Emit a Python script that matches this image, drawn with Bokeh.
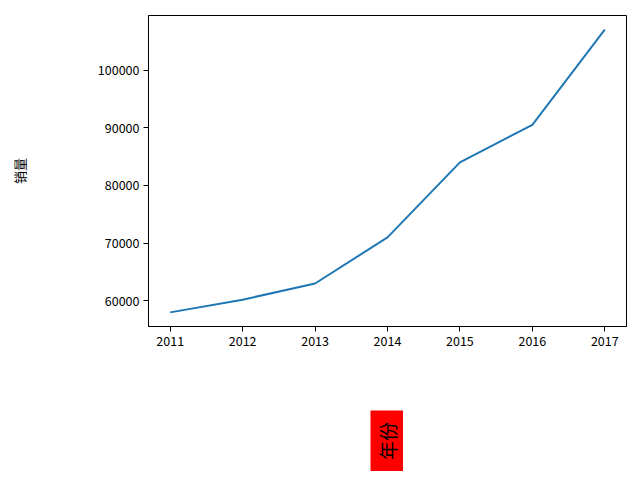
import math
from bokeh.plotting import figure
from bokeh.layouts import column, row
from bokeh.models import Range1d, FixedTicker, NumeralTickFormatter, Label, Spacer
from bokeh.embed import file_html
from bokeh.resources import INLINE

years = [2011, 2012, 2013, 2014, 2015, 2016, 2017]
sales = [58000, 60200, 63000, 71000, 84000, 90500, 107000]
y_ticks = [60000, 70000, 80000, 90000, 100000]
x_label = "年份"
y_label = "销量"

FONT = "Noto Sans CJK SC"

xspan = max(years) - min(years)
yspan = max(sales) - min(sales)

p = figure(width=632, height=410, output_backend="svg", toolbar_location=None,
           x_range=Range1d(min(years) - 0.05 * xspan, max(years) + 0.05 * xspan),
           y_range=Range1d(min(sales) - 0.05 * yspan, max(sales) + 0.05 * yspan),
           min_border_left=148, min_border_right=6, min_border_top=15, min_border_bottom=84)
p.frame_width = 478
p.frame_height = 311

p.line(years, sales, line_color="#1f77b4", line_width=2)

p.xgrid.visible = False
p.ygrid.visible = False
p.outline_line_color = "black"
p.outline_line_width = 1
p.outline_line_alpha = 1

p.xaxis.ticker = FixedTicker(ticks=years)
p.yaxis.ticker = FixedTicker(ticks=y_ticks)
p.xaxis.formatter = NumeralTickFormatter(format="0")
p.yaxis.formatter = NumeralTickFormatter(format="0")
for ax in (p.xaxis, p.yaxis):
    ax.major_tick_out = 5
    ax.major_tick_in = 0
    ax.minor_tick_out = 0
    ax.minor_tick_in = 0
    ax.axis_line_color = "black"
    ax.major_tick_line_color = "black"
    ax.major_label_text_font = FONT
    ax.major_label_text_font_size = "12.5px"
    ax.major_label_text_color = "black"
    ax.major_label_standoff = 4

p.yaxis.axis_label = y_label
p.yaxis.axis_label_text_font = FONT
p.yaxis.axis_label_text_font_size = "13px"
p.yaxis.axis_label_text_font_style = "normal"
p.yaxis.axis_label_text_color = "black"
p.yaxis.axis_label_standoff = 66

# red boxed, rotated x-axis title
p2 = figure(width=33, height=61, output_backend="svg", toolbar_location=None,
            x_range=Range1d(0, 1), y_range=Range1d(0, 1),
            min_border=0, background_fill_color="red", border_fill_color="red")
p2.axis.visible = False
p2.grid.visible = False
p2.outline_line_color = None
p2.add_layout(Label(x=16.5, y=30.5, x_units="screen", y_units="screen", text=x_label,
                    angle=math.pi / 2, text_align="center", text_baseline="middle",
                    text_font=FONT, text_font_size="19px", text_color="black"))

layout = column(p, row(Spacer(width=370, height=61), p2), spacing=0)
open("out.html", "w").write(file_html(layout, INLINE))
